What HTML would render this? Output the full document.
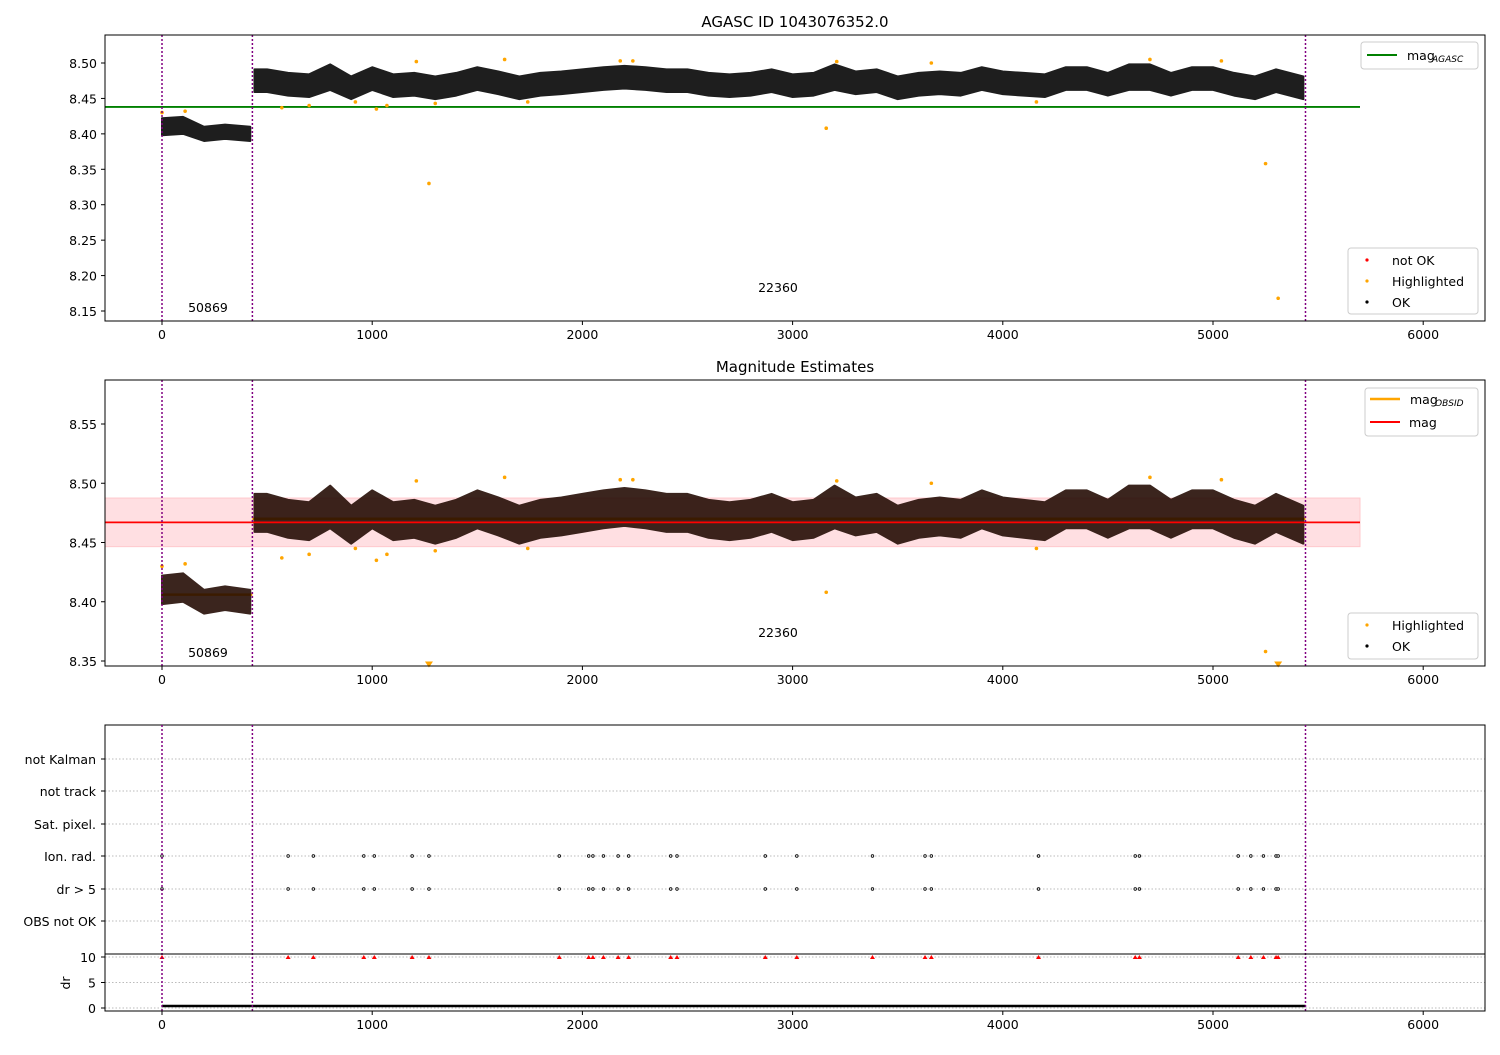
<!DOCTYPE html>
<html><head><meta charset="utf-8"><style>
body{margin:0;background:#fff}
svg{font-family:"DejaVu Sans","Liberation Sans",sans-serif;font-size:12.5px}
</style></head><body>
<svg id="c" width="1500" height="1050" xmlns="http://www.w3.org/2000/svg"></svg>
<script>
const times=[0,100,200,300,420,440,500,600,700,800,900,1000,1100,1200,1300,1400,1500,1600,1700,1800,1900,2000,2100,2200,2300,2400,2500,2600,2700,2800,2900,3000,3100,3200,3300,3400,3500,3600,3700,3800,3900,4000,4100,4200,4300,4400,4500,4600,4700,4800,4900,5000,5100,5200,5300,5430];
const mags=[8.410,8.412,8.400,8.403,8.400,8.475,8.475,8.470,8.468,8.480,8.465,8.478,8.468,8.470,8.465,8.470,8.478,8.472,8.465,8.470,8.472,8.475,8.478,8.480,8.478,8.475,8.475,8.470,8.468,8.470,8.475,8.468,8.470,8.480,8.472,8.475,8.465,8.470,8.472,8.470,8.478,8.472,8.470,8.468,8.478,8.478,8.470,8.480,8.480,8.470,8.478,8.478,8.470,8.465,8.475,8.465];
const halfWidth=[0.012,0.012,0.010,0.010,0.010,0.016,0.016,0.016,0.016,0.018,0.016,0.016,0.016,0.016,0.016,0.016,0.016,0.016,0.016,0.016,0.016,0.016,0.016,0.016,0.016,0.016,0.016,0.016,0.016,0.016,0.016,0.016,0.016,0.018,0.016,0.016,0.016,0.016,0.016,0.016,0.016,0.016,0.016,0.016,0.016,0.016,0.016,0.018,0.018,0.016,0.016,0.016,0.016,0.016,0.016,0.016];
const hlTimes=[0,110,570,700,920,1020,1070,1210,1270,1300,1630,1740,2180,2240,3160,3210,3660,4160,4700,5040,5250,5310];
const hlMags=[8.43,8.432,8.437,8.440,8.445,8.435,8.440,8.502,8.33,8.443,8.505,8.445,8.503,8.503,8.408,8.502,8.50,8.445,8.505,8.503,8.358,8.168];
const flagTimes=[0,600,720,960,1010,1190,1270,1890,2030,2050,2100,2170,2220,2420,2450,2870,3020,3380,3630,3660,4170,4630,4650,5120,5180,5240,5300,5310];
const xTicks=[0,1000,2000,3000,4000,5000,6000];
const y1Ticks=[8.15,8.20,8.25,8.30,8.35,8.40,8.45,8.50];
const y2Ticks=[8.35,8.40,8.45,8.50,8.55];
const flagLabels=["not Kalman","not track","Sat. pixel.","Ion. rad.","dr > 5","OBS not OK"];
const drTicks=[0,5,10];
const obsBounds=[0,430,5440];
const agascMag=8.438, meanMag=8.467, magStd=0.0205;
const obsidMag=[8.406,8.470];
const drLevel=0.4;

const S=document.getElementById('c');const NS='http://www.w3.org/2000/svg';
function el(t,a,p,txt){const e=document.createElementNS(NS,t);for(const k in a)e.setAttribute(k,a[k]);if(txt!==undefined)e.textContent=txt;(p||S).appendChild(e);return e;}
const X=t=>162+t*0.2102;
const Y1=m=>63+(8.50-m)*708.6;
const Y2=m=>424+(8.55-m)*1185;
const FY=[759,791,824,856,889,921];
const YD=d=>1008-d*5.1;

function frame(x0,y0,x1,y1,name){el('rect',{x:x0,y:y0,width:x1-x0,height:y1-y0,fill:'none',stroke:'#000','stroke-width':1});}
function xaxis(yb){const g=el('g',{});
 xTicks.forEach(t=>{el('line',{x1:X(t),x2:X(t),y1:yb,y2:yb+4,stroke:'#000'},g);el('text',{x:X(t),y:yb+18,'text-anchor':'middle'},g,String(t));});}
function vlines(y0,y1){obsBounds.forEach(t=>{const l=el('line',{x1:X(t),x2:X(t),y1:y0,y2:y1,stroke:'purple','stroke-width':1.5,'stroke-dasharray':'2,2'});});}
function band(Y,color,name){const g=el('g',{opacity:0.88});
 const segs=[[0,5],[5,times.length]];
 segs.forEach(([a,b])=>{let up=[],dn=[];for(let i=a;i<b;i++){up.push(X(times[i])+','+Y(mags[i]+halfWidth[i]));dn.unshift(X(times[i])+','+Y(mags[i]-halfWidth[i]));}
  el('polygon',{points:up.concat(dn).join(' '),fill:color,stroke:color,'stroke-width':2,'stroke-linejoin':'round'},g);});}

el('text',{x:795,y:27,'text-anchor':'middle','font-size':15},S,'AGASC ID 1043076352.0');
el('text',{x:795,y:372,'text-anchor':'middle','font-size':15},S,'Magnitude Estimates');

// Panel 1
y1Ticks.forEach(m=>{el('line',{x1:101,x2:105,y1:Y1(m),y2:Y1(m),stroke:'#000'});el('text',{x:97,y:Y1(m)+5,'text-anchor':'end'},S,m.toFixed(2));});
band(Y1,'#000','ok-points-1');
el('line',{x1:105,x2:1360,y1:Y1(agascMag),y2:Y1(agascMag),stroke:'green','stroke-width':1.8});
hlTimes.forEach((t,i)=>{const c=el('circle',{cx:X(t),cy:Y1(hlMags[i]),r:1.8,fill:'orange'});});
vlines(35,321);
el('text',{x:208,y:312,'text-anchor':'middle'},S,'50869');el('text',{x:778,y:292,'text-anchor':'middle'},S,'22360');
frame(105,35,1485,321,'panel-agasc');xaxis(321);
let lg=el('g',{});
el('rect',{x:1361,y:42,width:117,height:27,rx:3,fill:'#fff',stroke:'#ccc'},lg);
el('line',{x1:1367,x2:1397,y1:55,y2:55,stroke:'green','stroke-width':2},lg);
el('text',{x:1407,y:60},lg,'mag');el('text',{x:1432,y:62,'font-size':9,'font-style':'italic'},lg,'AGASC');
lg=el('g',{});
el('rect',{x:1348,y:248,width:130,height:66,rx:3,fill:'#fff',stroke:'#ccc'},lg);
[['red','not OK',260],['orange','Highlighted',281],['#000','OK',302]].forEach(([c,t,y])=>{el('circle',{cx:1367,cy:y,r:1.6,fill:c},lg);el('text',{x:1392,y:y+5},lg,t);});

// Panel 2
y2Ticks.forEach(m=>{el('line',{x1:101,x2:105,y1:Y2(m),y2:Y2(m),stroke:'#000'});el('text',{x:97,y:Y2(m)+5,'text-anchor':'end'},S,m.toFixed(2));});
el('rect',{x:105,y:Y2(meanMag+magStd),width:1255,height:Y2(meanMag-magStd)-Y2(meanMag+magStd),fill:'#ffdfe2',stroke:'#ffc8cc'});
el('line',{x1:X(0),x2:X(430),y1:Y2(obsidMag[0]),y2:Y2(obsidMag[0]),stroke:'orange','stroke-width':2.5});
el('line',{x1:X(430),x2:X(5440),y1:Y2(obsidMag[1]),y2:Y2(obsidMag[1]),stroke:'orange','stroke-width':2.5});
band(Y2,'#200800','ok-points-2');
el('line',{x1:105,x2:1360,y1:Y2(meanMag),y2:Y2(meanMag),stroke:'red','stroke-width':1.8});
hlTimes.forEach((t,i)=>{const m=hlMags[i];if(m<8.345){el('path',{d:`M${X(t)-4},${Y2(8.347)-3}h8l-4,6z`,fill:'orange'});}else{el('circle',{cx:X(t),cy:Y2(m),r:1.8,fill:'orange'});}});
vlines(380,666);
el('text',{x:208,y:657,'text-anchor':'middle'},S,'50869');el('text',{x:778,y:637,'text-anchor':'middle'},S,'22360');
frame(105,380,1485,666,'panel-estimates');xaxis(666);
lg=el('g',{});
el('rect',{x:1365,y:388,width:113,height:48,rx:3,fill:'#fff',stroke:'#ccc'},lg);
el('line',{x1:1370,x2:1400,y1:399,y2:399,stroke:'orange','stroke-width':2.5},lg);
el('text',{x:1410,y:404},lg,'mag');el('text',{x:1435,y:406,'font-size':9,'font-style':'italic'},lg,'OBSID');
el('line',{x1:1370,x2:1400,y1:422,y2:422,stroke:'red','stroke-width':2},lg);el('text',{x:1409,y:427},lg,'mag');
lg=el('g',{});
el('rect',{x:1348,y:613,width:130,height:46,rx:3,fill:'#fff',stroke:'#ccc'},lg);
[['orange','Highlighted',625],['#000','OK',646]].forEach(([c,t,y])=>{el('circle',{cx:1367,cy:y,r:1.6,fill:c},lg);el('text',{x:1392,y:y+5},lg,t);});

// Panel 3 flags
flagLabels.forEach((l,i)=>{el('line',{x1:105,x2:1485,y1:FY[i],y2:FY[i],stroke:'#bbb','stroke-dasharray':'1.5,2'});el('line',{x1:101,x2:105,y1:FY[i],y2:FY[i],stroke:'#000'});el('text',{x:96,y:FY[i]+5,'text-anchor':'end'},S,l);});
flagTimes.forEach(t=>{[3,4].forEach(i=>{const c=el('circle',{cx:X(t),cy:FY[i],r:1.3,fill:'#fff',stroke:'#000','stroke-width':0.8});});});
frame(105,725,1485,954,'panel-flags');
drTicks.forEach(d=>{el('line',{x1:105,x2:1485,y1:YD(d),y2:YD(d),stroke:'#bbb','stroke-dasharray':'1.5,2'});el('line',{x1:101,x2:105,y1:YD(d),y2:YD(d),stroke:'#000'});el('text',{x:96,y:YD(d)+5,'text-anchor':'end'},S,String(d));});
el('text',{x:70,y:983,'text-anchor':'middle',transform:'rotate(-90 70 983)'},S,'dr');
el('line',{x1:X(0),x2:X(5440),y1:YD(drLevel),y2:YD(drLevel),stroke:'#000','stroke-width':2.5});
flagTimes.forEach(t=>{el('path',{d:`M${X(t)-2.5},${YD(10)+2}h5l-2.5,-4z`,fill:'red'});});
vlines(725,1011);
frame(105,954,1485,1011,'panel-dr');xaxis(1011);
</script>
</body></html>
